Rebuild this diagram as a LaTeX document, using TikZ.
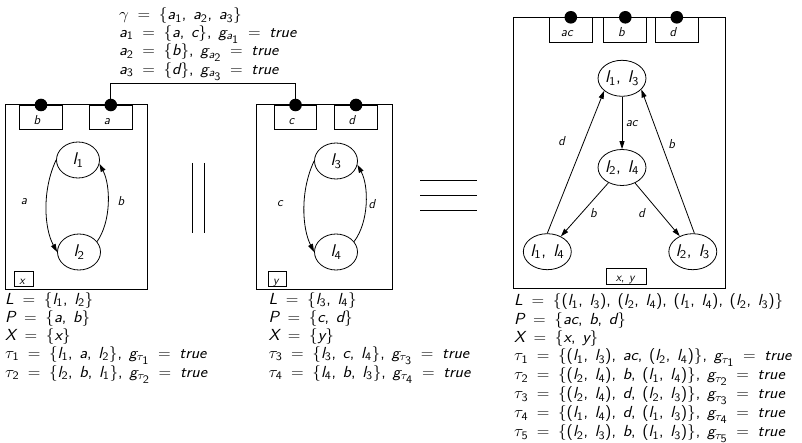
\RequirePackage{fix-cm}
\documentclass[tikz,border=0pt]{standalone}
\usepackage{graphicx}
\usetikzlibrary{shapes.geometric,arrows.meta}
\SetSymbolFont{operators}{normal}{TU}{lmss}{m}{n}
\SetSymbolFont{letters}{normal}{TU}{lmss}{m}{sl}
\DeclareSymbolFont{grk}{OML}{cmm}{m}{it}
\DeclareMathSymbol{\gamma}{\mathord}{grk}{"0D}
\DeclareMathSymbol{\tau}{\mathord}{grk}{"1C}
\DeclareMathSymbol{,}{\mathpunct}{operators}{"2C}
\SetMathAlphabet{\mathit}{normal}{TU}{lmss}{m}{sl}
\DeclareMathSizes{16}{16}{11.5}{11.5}
\DeclareMathSizes{17}{17}{12}{12}
\thickmuskip=9mu
\thinmuskip=7mu
\newcommand\sx[1]{\scalebox{1.08}[1]{#1}}
\newcommand\lines[1]{\sx{\begin{tabular}{@{}l@{}}#1\end{tabular}}}
\begin{document}
\begin{tikzpicture}[x=1pt,y=-1pt,
  box/.style={draw, line width=1pt},
  port/.style={draw, line width=1pt, minimum width=42.7pt, minimum height=24.4pt, inner sep=0pt, anchor=north, text height=13pt, text depth=0pt, font=\fontsize{13}{13}\selectfont},
  dot/.style={circle, fill=black, minimum size=12.6pt, inner sep=0pt},
  var/.style={draw, line width=0.9pt, minimum height=15.7pt, inner sep=0pt, text height=10.5pt, text depth=0pt, font=\fontsize{12}{12}\selectfont},
  state/.style={ellipse, draw, line width=0.8pt, minimum width=43pt, minimum height=36pt, inner sep=0pt, font=\fontsize{17}{17}\selectfont},
  lab/.style={font=\fontsize{13}{13}\selectfont, inner sep=0pt},
  list/.style={anchor=north west, inner sep=0pt, font=\fontsize{16}{18}\selectfont},
  arr/.style={-{Stealth[length=8pt,width=5pt,inset=0pt]}, line width=0.8pt}]
\useasboundingbox (0,0) rectangle (802,443);
% ---- left automaton
\draw[box] (5,105) rectangle (147,289);
\node[port] (pb1) at (41,105) {$b$\kern8pt};
\node[port] (pa1) at (110.8,105) {$a$\kern8pt};
\node[dot] (db1) at (pb1.north) {};
\node[dot] (da1) at (pa1.north) {};
\node[state] (l1) at (78,160) {\sx{$l_1$}};
\node[state] (l2) at (79,252) {\sx{$l_2$}};
\draw[arr] (l1.west) .. controls (42,190) and (44,228) .. (l2.west);
\draw[arr] (l2.30) .. controls (111,222) and (111,186) .. (l1.-10);
\node[lab] (ea1) at (24,202) {$a$};
\node[lab] (eb1) at (121,201) {$b$};
\node[var, minimum width=19pt] (vx) at (23.5,279) {$x$\kern3pt};
% ---- middle automaton
\draw[box] (256,105) rectangle (392.7,289);
\node[port] (pc) at (295.5,105) {$c$\kern8pt};
\node[port] (pd) at (356,105) {$d$\kern8pt};
\node[dot] (dc) at (pc.north) {};
\node[dot] (dd) at (pd.north) {};
\node[state] (l3) at (336,161) {\sx{$l_3$}};
\node[state] (l4) at (336,252) {\sx{$l_4$}};
\draw[arr] (l3.west) .. controls (300,191) and (302,228) .. (l4.west);
\draw[arr] (l4.30) .. controls (369,222) and (369,186) .. (l3.-10);
\node[lab] (ec) at (280,204) {$c$};
\node[lab] (ed) at (372,204) {$d$};
\node[var, minimum width=18.7pt] (vy) at (277.3,279) {$y$\kern3pt};
% ---- sync connector
\coordinate (hl) at (0,84);
\draw[line width=1pt] (da1.center) -- (da1.center |- hl) -| (dc.center);
% ---- operators
\draw[line width=1pt] (192.5,163) -- (192.5,233) (204,163) -- (204,233);
\draw[line width=1pt] (420,181) -- (477,181) (420,196) -- (477,196) (420,211) -- (477,211);
% ---- product automaton
\draw[box] (513.3,17.3) rectangle (725,288.7);
\node[port] (pac) at (570.8,17.3) {$ac$\kern8pt};
\node[port] (pbb) at (625.3,17.3) {$b$\kern8pt};
\node[port] (pdd) at (676.8,17.3) {$d$\kern8pt};
\node[dot] (dac) at (pac.north) {};
\node[dot] (dbb) at (pbb.north) {};
\node[dot] (ddd) at (pdd.north) {};
\node[state] (s13) at (622,78.3) {\sx{$l_1, l_3$}};
\node[state] (s24) at (622,167.5) {\sx{$l_2, l_4$}};
\node[state] (s14) at (547.3,251.7) {\sx{$l_1, l_4$}};
\node[state] (s23) at (692.8,251.7) {\sx{$l_2, l_3$}};
\draw[arr] (s13) -- (s24);
\draw[arr] (s24) -- (s14);
\draw[arr] (s24) -- (s23);
\draw[arr] (s14.north) -- (s13.215);
\draw[arr] (s23.85) -- (s13.-30);
\node[lab] (eac) at (631.7,124) {$ac$};
\node[lab] (eb2) at (593.3,213.3) {$b$};
\node[lab] (ed2) at (641.7,213.3) {$d$};
\node[lab] (ed3) at (561.7,140.7) {$d$};
\node[lab] (eb3) at (671.7,144) {$b$};
\node[var, minimum width=40pt] (vxy) at (626.7,276.2) {$x, y$\kern3pt};
% ---- texts
\node[list, font=\fontsize{16}{17.5}\selectfont] (gam) at (119,7.2) {\lines{$\gamma = \{a_1, a_2, a_3\}$\\
$a_1 = \{a, c\}, g_{a_1} = \mathit{true}$\\
$a_2 = \{b\}, g_{a_2} = \mathit{true}$\\
$a_3 = \{d\}, g_{a_3} = \mathit{true}$}};
\node[list] (def1) at (5,291.5) {\lines{$L = \{l_1, l_2\}$\\
$P = \{a, b\}$\\
$X = \{x\}$\\
$\tau_1 = \{l_1, a, l_2\}, g_{\tau_1} = \mathit{true}$\\
$\tau_2 = \{l_2, b, l_1\}, g_{\tau_2} = \mathit{true}$}};
\node[list] (def2) at (268.3,291.5) {\lines{$L = \{l_3, l_4\}$\\
$P = \{c, d\}$\\
$X = \{y\}$\\
$\tau_3 = \{l_3, c, l_4\}, g_{\tau_3} = \mathit{true}$\\
$\tau_4 = \{l_4, b, l_3\}, g_{\tau_4} = \mathit{true}$}};
\node[list, font=\fontsize{16}{18.3}\selectfont] (def3) at (514,292.7) {\lines{$L = \{(l_1, l_3), (l_2, l_4), (l_1, l_4), (l_2, l_3)\}$\\
$P = \{ac, b, d\}$\\
$X = \{x, y\}$\\
$\tau_1 = \{(l_1, l_3), ac, (l_2, l_4)\}, g_{\tau_1} = \mathit{true}$\\
$\tau_2 = \{(l_2, l_4), b, (l_1, l_4)\}, g_{\tau_2} = \mathit{true}$\\
$\tau_3 = \{(l_2, l_4), d, (l_2, l_3)\}, g_{\tau_3} = \mathit{true}$\\
$\tau_4 = \{(l_1, l_4), d, (l_1, l_3)\}, g_{\tau_4} = \mathit{true}$\\
$\tau_5 = \{(l_2, l_3), b, (l_1, l_3)\}, g_{\tau_5} = \mathit{true}$}};
\end{tikzpicture}
\end{document}
